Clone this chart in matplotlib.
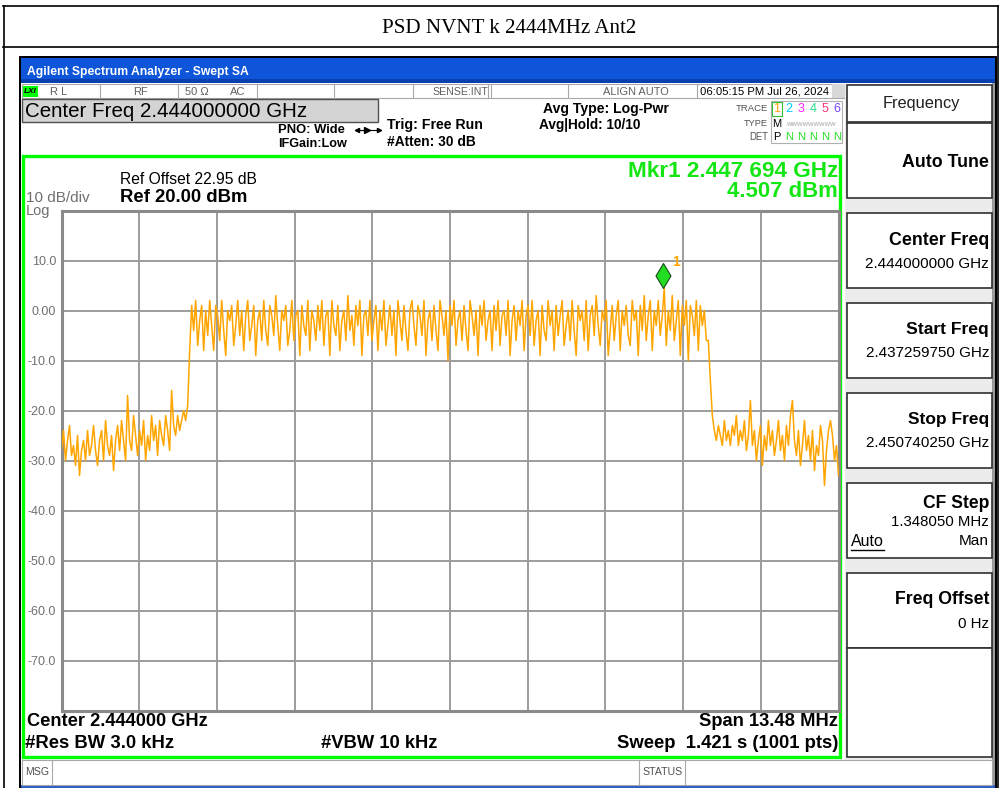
import numpy as np
import matplotlib
matplotlib.use("Agg")
import matplotlib.pyplot as plt
from matplotlib.patches import Rectangle
from matplotlib.path import Path
from matplotlib.lines import Line2D

W, H = 1001, 788

# ---------------- data ----------------
title = "PSD NVNT k 2444MHz Ant2"
start_ghz = 2.437259750
stop_ghz = 2.450740250
ref_level = 20.0
db_per_div = 10
y_tick_values = [10, 0, -10, -20, -30, -40, -50, -60, -70]
y_tick_labels = ["10.0", "0.00", "-10.0", "-20.0", "-30.0", "-40.0", "-50.0", "-60.0", "-70.0"]
marker_freq_ghz = 2.447694
marker_level_dbm = 4.507

levels_low_left = [-28, -24, -30, -26, -23, -29, -27, -31, -25, -33,
                   -28, -26, -30, -24, -29, -27, -23, -28, -31, -26,
                   -24, -30, -22, -27, -29, -25, -32, -26, -23, -28,
                   -22, -26, -30, -17, -26, -28, -21, -25, -29, -24,
                   -27, -22, -30, -25, -28, -21, -26, -23, -29, -22,
                   -25, -27, -21, -24, -28, -16, -23, -25, -21, -24,
                   -22, -20, -22]
levels_rise = [-19, -8]
levels_band = [1, -4, 2, -7, -2, 1, -8, 0, -5, 2,
               -3, -8, 1, -1, -6, 2, -4, -9, 0, -2,
               1, -7, -3, 2, -5, 0, -8, -1, 2, -6,
               -3, 1, -9, -2, 0, -6, 2, -4, -7, 1,
               -1, -5, 3, -3, -8, 0, -2, 1, -7, -4,
               2, -6, -1, 0, -9, 1, -3, -5, 2, -8,
               0, -2, -6, 1, -4, 2, -7, -1, 0, -9,
               2, -3, -5, 1, -8, -2, 0, -6, 3, -4,
               -1, -7, 1, -3, 2, -9, -1, 0, -5, 2,
               -6, -2, 1, -8, 0, -4, 2, -7, -3, 1,
               -5, 0, -9, 2, -2, -6, 1, -4, -8, 0,
               2, -3, -7, 1, -1, -5, 2, -9, -2, 0,
               -6, 1, -4, -8, 2, -1, -5, 0, -10, 1,
               -3, 2, -7, -2, 0, -6, 1, -4, -8, 2,
               -1, -5, 0, -9, 1, -3, 2, -6, -2, 0,
               -8, 1, -4, 2, -7, -1, 0, -5, 2, -9,
               -2, 1, -6, 0, -3, 2, -8, -1, 1, -5,
               2, -7, -2, 0, -9, 1, -4, -6, 2, -3,
               0, -8, 1, -5, -1, 2, -7, -3, 0, -6,
               2, -4, -9, 1, -2, 0, -6, 2, -8, -1,
               1, -5, 3, -3, -7, 0, -2, 2, -9, -4,
               1, -6, -1, 2, -8, 0, -3, 1, -5, -7,
               2, -2, 0, -9, 1, -4, 3, -6, -1, 2,
               -8, 0, -3, 2, -5, -1, 4.5, -7, 0, -4,
               3, -6, -2, 2, -9, 1, -3, 2, -10, 1,
               -1, -5, 2, -8, 1, -3, 0, -6]
levels_fall = [-6, -14]
levels_low_right = [-21, -24, -26, -23, -25, -27, -22, -26, -24, -27,
                    -23, -25, -21, -27, -24, -26, -22, -28, -25, -18,
                    -27, -24, -30, -26, -23, -31, -25, -28, -22, -27,
                    -24, -29, -26, -22, -28, -25, -30, -23, -27, -21,
                    -18, -26, -29, -24, -31, -27, -22, -28, -25, -30,
                    -24, -32, -27, -29, -23, -26, -35, -28, -24, -22,
                    -25, -30, -27, -33]

levels = levels_low_left + levels_rise + levels_band + levels_fall + levels_low_right
freqs = np.linspace(start_ghz, stop_ghz, len(levels))

# ---------------- figure ----------------
SANS = "Liberation Sans"
fig = plt.figure(figsize=(W / 100, H / 100), dpi=100)
fig.patch.set_facecolor("white")
bg = fig.add_axes([0, 0, 1, 1])
bg.set_xlim(0, W)
bg.set_ylim(H, 0)
bg.axis("off")
renderer = fig.canvas.get_renderer()


def rect(x0, y0, x1, y1, fc="none", ec="none", lw=1.0, z=1):
    bg.add_patch(Rectangle((x0, y0), x1 - x0, y1 - y0, facecolor=fc, edgecolor=ec, lw=lw, zorder=z))


def hline(x0, x1, y, color, lw=1.0, z=2):
    bg.add_line(Line2D([x0, x1], [y, y], color=color, lw=lw, zorder=z))


def vline(x, y0, y1, color, lw=1.0, z=2):
    bg.add_line(Line2D([x, x], [y0, y1], color=color, lw=lw, zorder=z))


def txt(x, y, s, width=None, size=10, ha="left", va="center", family=SANS, z=5, **kw):
    t = bg.text(x, y, s, fontsize=size, ha=ha, va=va, family=family, zorder=z, **kw)
    if width:
        w = t.get_window_extent(renderer).width
        t.set_fontsize(size * width / w)
    return t


# page frame with title
hline(3, 998, 6, "black", 1.2)
hline(3, 998, 47, "black", 1.2)
vline(3.5, 6, 788, "black", 1.2)
vline(998, 6, 788, "black", 1.2)
txt(509, 28, title, width=256, size=14, ha="center", family="Liberation Serif")

# screenshot window
rect(19, 56, 997, 788, fc="black", z=1)
rect(21, 58, 995, 83, fc="#0E55DA", z=2)
rect(21, 79, 995, 83, fc="#0A3FB0", z=2)
txt(27, 72, "Agilent Spectrum Analyzer - Swept SA", width=221, size=9, color="white", weight="bold")
rect(21, 83, 995, 785, fc="white", z=2)
rect(21, 785, 995, 788, fc="#2A5FC8", z=2)
rect(992, 83, 995, 785, fc="#9A9A9A", z=3)

# status row
rect(22, 84, 845, 98, fc="white", ec="#A8A8A8", lw=0.8, z=3)
rect(23, 86, 38, 97, fc="#00FF00", z=4)
txt(24, 91.5, "LXI", width=13, size=7, weight="bold", style="italic")
for sx in [100, 178, 257, 334, 413, 488, 491, 568, 697, 832]:
    vline(sx, 84, 98, "#A8A8A8", 0.8, z=4)
txt(50, 91.5, "R L", size=8, color="#606060")
txt(133, 91.5, "RF", size=8, color="#606060")
txt(185, 91.5, "50 Ω", size=8, color="#606060")
txt(230, 91.5, "AC", size=8, color="#606060")
txt(432, 91.5, "SENSE:INT", width=55, size=7.5, color="#606060")
txt(603, 91.5, "ALIGN AUTO", width=65, size=7.5, color="#606060")
txt(700, 91.5, "06:05:15 PM Jul 26, 2024", width=129, size=8, color="black")
rect(832, 84, 845, 98, fc="#D8D8D8", z=4)

# header
rect(22, 99, 378, 122, fc="#D4D4D4", ec="#505050", lw=1.0, z=3)
txt(25, 111, "Center Freq 2.444000000 GHz", width=282, size=13)
txt(345, 130, "PNO: Wide", width=67, size=9, ha="right", weight="bold")
bg.add_line(Line2D([357, 379], [130, 130], color="black", lw=0.8, zorder=5))
bg.plot([367], [130], marker=">", color="black", ms=4, zorder=6)
bg.plot([357], [130], marker="<", color="black", ms=3, zorder=6)
bg.plot([379], [130], marker=">", color="black", ms=3, zorder=6)
txt(278, 144, "IFGain:Low", width=69, size=9, weight="bold")
txt(387, 125, "Trig: Free Run", width=96, size=9, weight="bold")
txt(387, 142, "#Atten: 30 dB", width=89, size=9, weight="bold")
txt(543, 109, "Avg Type: Log-Pwr", width=126, size=9, weight="bold")
txt(539, 125, "Avg|Hold: 10/10", width=102, size=9, weight="bold")
txt(768, 108, "TRACE", width=32, size=7, ha="right", color="#505050")
txt(768, 123, "TYPE", width=24, size=7, ha="right", color="#505050")
txt(768, 137, "DET", width=19, size=7, ha="right", color="#505050")
rect(771, 101, 842, 143, fc="white", ec="#B0B0B0", lw=0.8, z=3)
rect(772, 102, 782, 116, fc="none", ec="#30C030", lw=0.8, z=4)
trace_nums = ["1", "2", "3", "4", "5", "6"]
trace_cols = ["#FFA500", "#00CCFF", "#FF22FF", "#22DD88", "#FF3377", "#7744FF"]
for k, (n, c) in enumerate(zip(trace_nums, trace_cols)):
    txt(777 + 12 * k, 109, n, size=9, ha="center", color=c)
txt(777, 124, "M", size=8, ha="center", color="black")
txt(812, 124, "WWWWWWWWW", width=50, size=6, ha="center", color="#A0A0A0")
txt(777, 137, "P", size=8, ha="center", color="black")
for k in range(5):
    txt(789 + 12 * k, 137, "N", size=8, ha="center", color="#22DD22")

# right soft-key panel
rect(845, 84, 992, 760, fc="#ECECEC", z=3)
boxes = [(85, 122), (123, 198), (213, 288), (303, 378), (393, 468), (483, 558), (573, 648), (648, 757)]
for (y0, y1) in boxes:
    rect(847, y0, 992, y1, fc="white", ec="#303030", lw=1.2, z=4)
txt(921, 103, "Frequency", width=78, size=10, ha="center", color="#202020")
txt(989, 162, "Auto Tune", width=87, size=11, ha="right", weight="bold")
txt(989, 240, "Center Freq", width=99, size=11, ha="right", weight="bold")
txt(989, 264, "2.444000000 GHz", width=124, size=9.5, ha="right")
txt(989, 329, "Start Freq", width=82, size=11, ha="right", weight="bold")
txt(989, 353, "2.437259750 GHz", width=124, size=9.5, ha="right")
txt(989, 419, "Stop Freq", width=81, size=11, ha="right", weight="bold")
txt(989, 443, "2.450740250 GHz", width=123, size=9.5, ha="right")
txt(989, 503, "CF Step", width=66, size=11, ha="right", weight="bold")
txt(989, 522, "1.348050 MHz", width=98, size=9.5, ha="right")
txt(851, 541, "Auto", width=33, size=9.5)
hline(851, 884, 550, "black", 1.0, z=6)
txt(989, 541, "Man", width=30, size=9.5, ha="right")
txt(989, 599, "Freq Offset", width=94, size=11, ha="right", weight="bold")
txt(989, 624, "0 Hz", width=31, size=9.5, ha="right")

# green display frame
rect(23, 156, 840, 757, fc="white", ec="#00FF00", lw=2.4, z=3)
txt(26, 202, "10 dB/div", size=11, color="#707070", va="baseline")
txt(26, 215, "Log", size=10.5, color="#707070", va="baseline")
txt(120, 179, "Ref Offset 22.95 dB", width=138, size=10)
txt(120, 197, "Ref 20.00 dBm", width=128, size=11, weight="bold")
txt(838, 171, "Mkr1 2.447 694 GHz", width=210, size=14, ha="right", weight="bold", color="#14E614")
txt(838, 191, "4.507 dBm", width=111, size=14, ha="right", weight="bold", color="#14E614")
txt(27, 721, "Center 2.444000 GHz", width=180, size=12, weight="bold")
txt(838, 721, "Span 13.48 MHz", width=139, size=12, ha="right", weight="bold")
txt(25, 743, "#Res BW 3.0 kHz", width=148, size=12, weight="bold")
txt(321, 743, "#VBW 10 kHz", width=116, size=12, weight="bold")
txt(838, 743, "Sweep  1.421 s (1001 pts)", width=221, size=12, ha="right", weight="bold")

# message bar
rect(22, 760, 992, 785, fc="white", ec="#A8A8A8", lw=0.8, z=3)
vline(52, 760, 785, "#A8A8A8", 0.8, z=4)
vline(639, 760, 785, "#A8A8A8", 0.8, z=4)
vline(685, 760, 785, "#A8A8A8", 0.8, z=4)
txt(25, 772, "MSG", width=24, size=6, color="#505050")
txt(642, 772, "STATUS", width=40, size=6, color="#505050")

# ---------------- graticule / trace ----------------
gx0, gx1, gy0, gy1 = 61.5, 838.5, 210.5, 710.5
ax = fig.add_axes([gx0 / W, 1 - gy1 / H, (gx1 - gx0) / W, (gy1 - gy0) / H])
ax.set_facecolor("white")
ax.set_xlim(start_ghz, stop_ghz)
ax.set_ylim(ref_level - 10 * db_per_div, ref_level)
ax.set_xticks(np.linspace(start_ghz, stop_ghz, 11))
ax.set_xticklabels([])
ax.set_yticks(y_tick_values)
ax.set_yticklabels(y_tick_labels, color="#707070", family=SANS, fontsize=9)
ax.tick_params(length=0, pad=4)
ax.grid(True, color="#9C9C9C", lw=1.4)
for sp in ax.spines.values():
    sp.set_color("#8A8A8A")
    sp.set_linewidth(2.2)
ax.plot(freqs, levels, color="#FFA500", lw=1.1, zorder=3)

diamond = Path([(0, 0), (0.6, 1), (0, 2), (-0.6, 1), (0, 0)],
               [Path.MOVETO, Path.LINETO, Path.LINETO, Path.LINETO, Path.CLOSEPOLY])
ax.plot([marker_freq_ghz], [marker_level_dbm], marker=diamond, ms=36,
        mfc="#22DD22", mec="#1A4A1A", mew=0.8, zorder=5, clip_on=False)
ax.annotate("1", (marker_freq_ghz, marker_level_dbm), xytext=(9.5, 18.5),
            textcoords="offset points", color="#FFA500", fontsize=10,
            weight="bold", family=SANS, ha="center", va="center")

fig.savefig("out.png", dpi=100, facecolor="white")
